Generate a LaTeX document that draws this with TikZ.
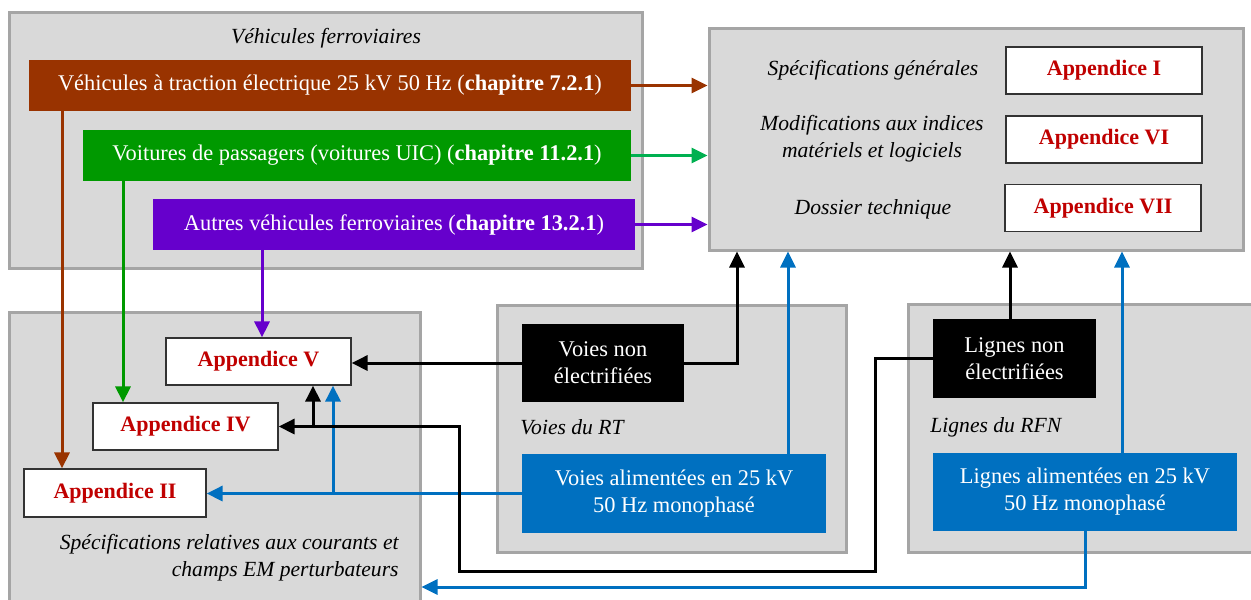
\documentclass[tikz,border=0pt]{standalone}
\usepackage{fontspec}
\setmainfont{Liberation Serif}
\usetikzlibrary{arrows.meta}
\definecolor{grpFond}{HTML}{D9D9D9}
\definecolor{grpBord}{HTML}{A5A5A5}
\definecolor{cBrun}{HTML}{993300}
\definecolor{cVert}{HTML}{009900}
\definecolor{cVertB}{HTML}{00B050}
\definecolor{cViolet}{HTML}{6600CC}
\definecolor{cBleu}{HTML}{0070C0}
\definecolor{cRouge}{HTML}{C00000}
\tikzset{
	grp/.style={draw=grpBord,fill=grpFond,line width=1.5pt,inner sep=0pt},
	col/.style={fill=#1,text=white,inner sep=0pt,align=center,font=\fontsize{11.2}{13.5}\selectfont},
	app/.style={draw=black!80,fill=white,line width=.6pt,text=cRouge,inner sep=0pt,minimum height=23.5pt,font=\fontsize{11}{13.5}\selectfont\bfseries},
	lbl/.style={inner sep=0pt,align=center,font=\fontsize{10.8}{13.5}\selectfont\itshape},
	fl/.style={line width=1.5pt,draw=#1,-{Triangle[length=8pt,width=7.5pt]}},
	ln/.style={line width=1.5pt,draw=#1}
}
\begin{document}
\begin{tikzpicture}[x=.5pt,y=-.5pt]
			%schema appendices
			\useasboundingbox (0,0)rectangle(1251,599);
			% cadres gris
			\node [grp,minimum width=316.5pt,minimum height=127.5pt] (veh) at (325.5,140.5) {};
			\node [grp,minimum width=267pt,minimum height=110.5pt] (spec) at (976,139.5) {};
			\node [grp,minimum width=205.5pt,minimum height=154pt] (em) at (214.5,466) {};
			\node [grp,minimum width=174.5pt,minimum height=123.5pt] (rt) at (671.5,428.5) {};
			\node [grp,minimum width=177pt,minimum height=124pt] (rfn) at (1085,428) {};
			\node [lbl] (vehLbl) at (326,38) {Véhicules ferroviaires};
			\node [lbl] (specGen) at (873,70) {Spécifications générales};
			\node [lbl] (specMod) at (872,139) {Modifications aux indices\\matériels et logiciels};
			\node [lbl] (specDos) at (873,209) {Dossier technique};
			\node [lbl,anchor=west] (rtLbl) at (520,427) {Voies du RT};
			\node [lbl,anchor=west] (rfnLbl) at (930,427) {Lignes du RFN};
			\node [lbl,align=right,anchor=east] (emLbl) at (399,558) {Spécifications relatives aux courants et\\champs EM perturbateurs};
			% vehicules
			\node [col=cBrun,minimum width=301pt,minimum height=25.5pt] (trac) at (330,85.5) {Véhicules à traction électrique 25 kV 50 Hz (\textbf{chapitre 7.2.1})};
			\node [col=cVert,minimum width=274pt,minimum height=25.5pt] (pass) at (357,155.5) {Voitures de passagers (voitures UIC) (\textbf{chapitre 11.2.1})};
			\node [col=cViolet,minimum width=241pt,minimum height=25.5pt] (autres) at (394,224.5) {Autres véhicules ferroviaires (\textbf{chapitre 13.2.1})};
			% voies et lignes
			\node [col=black,minimum width=81pt,minimum height=39pt] (voiesNon) at (603,363) {Voies non\\électrifiées};
			\node [col=cBleu,minimum width=152pt,minimum height=39.5pt] (voiesAlim) at (674,493.5) {Voies alimentées en 25 kV\\50 Hz monophasé};
			\node [col=black,minimum width=81.5pt,minimum height=39.5pt] (lignesNon) at (1014.5,358.5) {Lignes non\\électrifiées};
			\node [col=cBleu,minimum width=152pt,minimum height=39pt] (lignesAlim) at (1085,492) {Lignes alimentées en 25 kV\\50 Hz monophasé};
			% appendices
			\node [app,minimum width=98pt] (appI) at (1104,70.5) {Appendice I};
			\node [app,minimum width=98pt] (appVI) at (1104,139.5) {Appendice VI};
			\node [app,minimum width=98pt] (appVII) at (1103,208) {Appendice VII};
			\node [app,minimum width=92.5pt] (appV) at (258.5,361.5) {Appendice V};
			\node [app,minimum width=92.5pt] (appIV) at (185.5,426.5) {Appendice IV};
			\node [app,minimum width=91pt,minimum height=24pt] (appII) at (115,493) {Appendice II};
			% points de passage
			\coordinate (xBrun) at (62,0);
			\coordinate (xVert) at (123,0);
			\coordinate (xViolet) at (262,0);
			\coordinate (xRtNoir) at (737,0);
			\coordinate (xRtBleu) at (788,0);
			\coordinate (xRfnNoir) at (1010,0);
			\coordinate (xRfnBleu) at (1122,0);
			\coordinate (xBleuJ) at (333,0);
			\coordinate (xNoirJ) at (313,0);
			\coordinate (k1) at (875,571);
			\coordinate (k2) at (459,571);
			\coordinate (yEm) at (0,587);
			% fleches
			\draw [fl=cBrun] (trac.east)--(trac.east-|spec.west);
			\draw [fl=cVertB] (pass.east)--(pass.east-|spec.west);
			\draw [fl=cViolet] (autres.east)--(autres.east-|spec.west);
			\draw [fl=cBrun] (trac.south-|xBrun)--(appII.north-|xBrun);
			\draw [fl=cVert] (pass.south-|xVert)--(appIV.north-|xVert);
			\draw [fl=cViolet] (autres.south-|xViolet)--(appV.north-|xViolet);
			\draw [fl=black] (voiesNon.west)--(voiesNon.west-|appV.east);
			\draw [fl=black] (voiesNon.east)-|(spec.south-|xRtNoir);
			\draw [fl=cBleu] (voiesAlim.north-|xRtBleu)--(spec.south-|xRtBleu);
			\draw [fl=cBleu] (voiesAlim.west)--(voiesAlim.west-|appII.east);
			\draw [fl=cBleu] (voiesAlim.west-|xBleuJ)--(appV.south-|xBleuJ);
			\draw [fl=black] (lignesNon.north-|xRfnNoir)--(spec.south-|xRfnNoir);
			\draw [fl=cBleu] (lignesAlim.north-|xRfnBleu)--(spec.south-|xRfnBleu);
			\draw [fl=black] (lignesNon.west)-|(k1)--(k2)|-(appIV.east);
			\draw [fl=black] (appIV.east-|xNoirJ)--(appV.south-|xNoirJ);
			\draw [fl=cBleu] (lignesAlim.south)|-(em.east|-yEm);
		\end{tikzpicture}
\end{document}
